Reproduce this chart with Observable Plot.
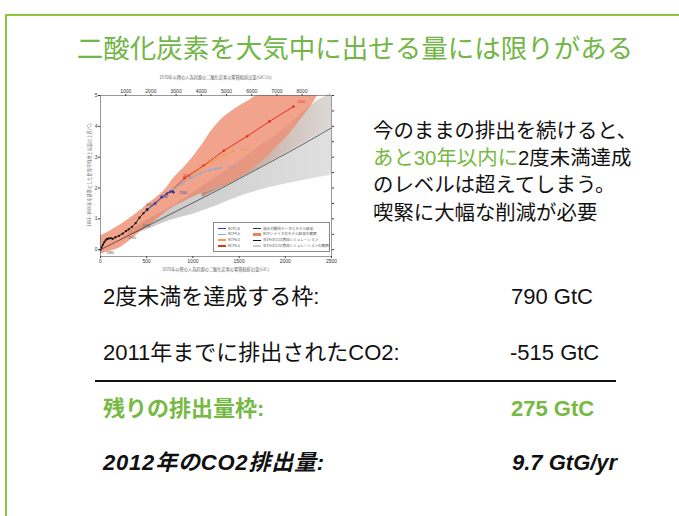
<!DOCTYPE html>
<html><head><meta charset="utf-8">
<script src="https://cdn.jsdelivr.net/npm/d3@7"></script>
<script src="https://cdn.jsdelivr.net/npm/@observablehq/plot@0.6"></script>
<style>
body{margin:0;background:#fff;font-family:"Liberation Sans","Noto Sans CJK JP",sans-serif;}
#page{position:relative;width:679px;height:516px;overflow:hidden;background:#fff;}
.abs{position:absolute;white-space:nowrap;}
#border{position:absolute;left:5px;top:14px;width:720px;height:600px;border:2px solid #8cc63f;}
#title{left:60px;width:590px;text-align:center;top:31px;font-size:26.5px;line-height:32px;color:#72b646;font-family:"Noto Sans CJK JP",sans-serif;}
#msg{left:373px;top:118px;font-size:20.4px;line-height:27.2px;color:#111;font-family:"Liberation Sans","Noto Sans CJK JP",sans-serif;}
.row{font-size:22px;line-height:26px;color:#111;}
.g, .row.g{color:#76b943;}
.bold{font-weight:bold;}
.it{font-style:italic;}
#chart{position:absolute;left:86px;top:75px;}
.tiny{font-size:4.2px;color:#666;font-family:"Noto Sans CJK JP",sans-serif;}
#legend{position:absolute;left:213px;top:222px;width:115px;height:28px;border:0.6px solid #888;background:#fff;font-size:3.6px;color:#555;font-family:"Noto Sans CJK JP",sans-serif;}
.li{position:absolute;height:5px;line-height:5px;}
.sw{display:inline-block;width:8px;height:1px;vertical-align:middle;margin-right:2px;}
</style></head>
<body><div id="page">
<div id="border"></div>
<div id="title" class="abs">二酸化炭素を大気中に出せる量には限りがある</div>
<div id="msg" class="abs">今のままの排出を続けると、<br><span class="g">あと30年以内に</span>2度未満達成<br>のレベルは超えてしまう。<br>喫緊に大幅な削減が必要</div>
<div id="chart"></div>
<div class="abs tiny" style="left:100px;top:74px;width:231px;text-align:center;">1870年以降の人為起源の二酸化炭素の累積総排出量(GtCO2)</div>
<div class="abs tiny" style="left:100px;top:266px;width:231px;text-align:center;">1870年以降の人為起源の二酸化炭素の累積総排出量(GtC)</div>
<div class="abs tiny" style="top:172px;width:185px;text-align:center;transform:translate(-92px,0) rotate(-90deg);transform-origin:50% 50%;left:88px;">1861~1880年を基準とした世界平均地上気温の上昇(°C)</div>
<div id="legend"></div>
<div id="table"></div>
</div>
<script>
// ---------- chart data ----------
const xTicks = [0, 500, 1000, 1500, 2000, 2500];
const topTicksGtCO2 = [1000, 2000, 3000, 4000, 5000, 6000, 7000, 8000];
const yTicks = [0, 1, 2, 3, 4, 5];
const yMinorTicks = [0, 0.5, 1, 1.5, 2, 2.5, 3, 3.5, 4, 4.5, 5];

// historical (GtC, °C)
const histX = [0, 12, 25, 40, 55, 70, 90, 110, 130, 160, 200, 240, 275, 305, 340, 380, 422, 465, 505];
const histY = [0.0, 0.08, 0.16, 0.24, 0.3, 0.35, 0.36, 0.38, 0.35, 0.4, 0.45, 0.52, 0.6, 0.66, 0.74, 0.86, 1.04, 1.18, 1.3];

const rcp26X = [505, 590, 660, 720, 755, 780, 790];
const rcp26Y = [1.3, 1.5, 1.7, 1.82, 1.88, 1.89, 1.86];
const rcp45X = [505, 590, 680, 780, 880, 980, 1080, 1180, 1250, 1300];
const rcp45Y = [1.28, 1.48, 1.72, 1.95, 2.15, 2.33, 2.47, 2.58, 2.63, 2.65];
const rcp60X = [505, 600, 700, 800, 870, 960, 1080, 1200, 1330, 1435];
const rcp60Y = [1.28, 1.5, 1.72, 1.98, 2.13, 2.35, 2.6, 2.85, 3.05, 3.2];
const rcp85X = [505, 600, 700, 800, 909, 1118, 1335, 1587, 1829, 2088];
const rcp85Y = [1.3, 1.52, 1.75, 2.0, 2.32, 2.73, 3.21, 3.68, 4.16, 4.64];

// 1%/yr CO2 simulation mean and range
const pctX = [0, 250, 500, 750, 1000, 1250, 1500, 1750, 2000, 2250, 2500];
const pctY = [0, 0.38, 0.76, 1.14, 1.52, 1.9, 2.3, 2.7, 3.1, 3.52, 3.95];
const pctRangeX = [300, 500, 750, 1000, 1250, 1500, 1750, 2000, 2250, 2500];
const pctLo = [0.45, 0.65, 0.95, 1.15, 1.42, 1.72, 1.95, 2.13, 2.28, 2.42];
const pctHi = [0.6, 0.95, 1.35, 1.85, 2.35, 2.85, 3.4, 3.95, 4.6, 5.1];

// RCP range
const rcpRangeX = [0, 100, 200, 300, 400, 500, 600, 700, 800, 900, 1000, 1100, 1200, 1300, 1400, 1500, 1600, 1700, 1800, 1900, 2000, 2100, 2200, 2300, 2350];
const rcpLo = [-0.15, -0.05, 0.05, 0.25, 0.5, 0.72, 0.95, 1.2, 1.4, 1.55, 1.7, 1.82, 1.95, 2.05, 2.15, 2.3, 2.5, 2.75, 3.0, 3.3, 3.6, 3.95, 4.35, 4.75, 5.0];
const rcpHi = [0.45, 0.6, 0.78, 0.98, 1.2, 1.45, 1.68, 1.95, 2.35, 2.65, 3.0, 3.4, 3.85, 4.2, 4.45, 4.65, 4.82, 5.0, 5.0, 5.0, 5.0, 5.0, 5.0, 5.0, 5.0];

// faded overlap region (between 1% mean and lower RCP edge, right side)
const fadeX = [1100, 1300, 1500, 1700, 1900, 2100, 2300, 2500];
const fadeLo = [1.7, 2.0, 2.3, 2.62, 2.95, 3.3, 3.65, 3.95];
const fadeHi = [1.82, 2.05, 2.3, 2.75, 3.3, 3.95, 4.75, 5.0];

// year annotations
const yearText = ["2100", "2100", "2100", "2100", "2050", "2030", "2010", "2000", "1950", "1880"];
const yearX = [2110, 1490, 1350, 830, 870, 620, 470, 430, 280, 40];
const yearY = [4.78, 3.25, 2.68, 1.85, 2.4, 1.72, 1.45, 0.78, 0.4, -0.1];
const yearColor = ["#e03020", "#f0a040", "#8fa8d8", "#3b3b95", "#e03020", "#3b3b95", "#555", "#555", "#555", "#555"];

const colors = {rcp26: "#3b3b95", rcp45: "#8fa8d8", rcp60: "#f0a040", rcp85: "#e03020"};
const GtCO2perGtC = 44 / 12;

const zip = (xs, ys) => xs.map((x, i) => ({x, y: ys[i]}));
const rcpBand = rcpRangeX.map((x, i) => ({x, lo: rcpLo[i], hi: rcpHi[i]}));
const pctBand = pctRangeX.map((x, i) => ({x, lo: pctLo[i], hi: pctHi[i]}));
const fadeBand = fadeX.map((x, i) => ({x, lo: fadeLo[i], hi: fadeHi[i]}));
const series = [
  {k: "rcp26", d: zip(rcp26X, rcp26Y)},
  {k: "rcp45", d: zip(rcp45X, rcp45Y)},
  {k: "rcp60", d: zip(rcp60X, rcp60Y)},
  {k: "rcp85", d: zip(rcp85X, rcp85Y)}
];
const hist = zip(histX, histY);
const pct = zip(pctX, pctY);
const years = yearText.map((t, i) => ({t, x: yearX[i], y: yearY[i], c: yearColor[i]}));

function defs() {
  const svg = d3.create("svg:defs");
  const g1 = svg.append("linearGradient").attr("id", "grayFade").attr("x1", 0).attr("x2", 1).attr("y1", 0).attr("y2", 0);
  g1.append("stop").attr("offset", "0%").attr("stop-color", "#c6c6c6");
  g1.append("stop").attr("offset", "100%").attr("stop-color", "#e0e0e0");
  const g2 = svg.append("linearGradient").attr("id", "brownFade").attr("x1", 0).attr("x2", 1).attr("y1", 0).attr("y2", 0);
  g2.append("stop").attr("offset", "0%").attr("stop-color", "#b8705a").attr("stop-opacity", 0.75);
  g2.append("stop").attr("offset", "100%").attr("stop-color", "#c8a898").attr("stop-opacity", 0.15);
  return svg.node();
}

const marks = [
  defs,
  Plot.areaY(pctBand, {x: "x", y1: "lo", y2: "hi", fill: "url(#grayFade)", curve: "monotone-x"}),
  Plot.areaY(fadeBand, {x: "x", y1: "lo", y2: "hi", fill: "url(#brownFade)", curve: "monotone-x"}),
  Plot.areaY(rcpBand, {x: "x", y1: "lo", y2: "hi", fill: "#eb8060", fillOpacity: 0.72, curve: "monotone-x"}),
  Plot.line(pct, {x: "x", y: "y", stroke: "#111", strokeWidth: 0.6, curve: "monotone-x"}),
];
for (const s of series.slice().reverse()) {
  marks.push(Plot.line(s.d, {x: "x", y: "y", stroke: colors[s.k], strokeWidth: 1}));
  marks.push(Plot.dot(s.d, {x: "x", y: "y", fill: colors[s.k], r: 1.3}));
}
marks.push(
  Plot.line(hist, {x: "x", y: "y", stroke: "#111", strokeWidth: 0.9}),
  Plot.dot(hist, {x: "x", y: "y", fill: "#111", r: 1.1}),
  Plot.text(years, {x: "x", y: "y", text: "t", fill: "c", fontSize: 3.5, textAnchor: "start", dx: 2}),
  Plot.axisX(xTicks, {anchor: "bottom", tickSize: 2, tickPadding: 1, fontSize: 5, label: null, color: "#333", tickFormat: d => String(d)}),
  Plot.axisX(topTicksGtCO2.map(v => v / GtCO2perGtC), {anchor: "top", tickSize: 2, tickPadding: 1, fontSize: 5, label: null, color: "#333", tickFormat: d => String(Math.round(d * GtCO2perGtC))}),
  Plot.axisY(yTicks, {anchor: "left", tickSize: 2, tickPadding: 1, fontSize: 5, label: null, color: "#333"}),
  Plot.axisY(yMinorTicks, {anchor: "right", tickSize: 2, tickFormat: () => "", label: null, color: "#333"}),
  Plot.frame({stroke: "#555", strokeWidth: 0.6})
);

const chart = Plot.plot({
  width: 251, height: 201,
  marginLeft: 14, marginRight: 6, marginTop: 20, marginBottom: 20,
  x: {domain: [0, 2500]},
  y: {domain: [-0.22, 5]},
  style: {background: "#fff", fontFamily: "Liberation Sans, sans-serif"},
  marks
});
document.getElementById("chart").appendChild(chart);

// ---------- legend ----------
const legLeft = ["RCP2.6", "RCP4.5", "RCP6.0", "RCP8.5"];
const legLeftColor = [colors.rcp26, colors.rcp45, colors.rcp60, colors.rcp85];
const legRight = ["過去の観測データとモデル結果", "RCPシナリオのモデル結果の範囲", "年1%のCO2増加シミュレーション", "年1%のCO2増加シミュレーションの範囲"];
const legRightColor = ["#333", "#eb8060", "#111", "#cccccc"];
const legRightH = [1.4, 2.5, 0.8, 2.5];
const leg = document.getElementById("legend");
legLeft.forEach((t, i) => {
  const d = document.createElement("div");
  d.className = "li"; d.style.left = "4px"; d.style.top = (2.5 + i * 5.8) + "px";
  d.innerHTML = `<span class="sw" style="background:${legLeftColor[i]};height:1.3px"></span>${t}`;
  leg.appendChild(d);
  const e = document.createElement("div");
  e.className = "li"; e.style.left = "39px"; e.style.top = (2.5 + i * 5.8) + "px";
  e.innerHTML = `<span class="sw" style="background:${legRightColor[i]};height:${legRightH[i]}px"></span>${legRight[i]}`;
  leg.appendChild(e);
});

// ---------- table ----------
const rowLabels = ["2度未満を達成する枠:", "2011年までに排出されたCO2:", "残りの排出量枠:", "2012年のCO2排出量:"];
const rowValues = ["790 GtC", "-515 GtC", "275 GtC", "9.7 GtG/yr"];
const rowStyle = ["", "", "bold g", "bold it"];
const rowTop = [284, 340, 396, 450];
const valLeft = [511, 510, 511, 512];
const labelSpacing = ["0px", "0px", "0px", "0.8px"];
const tbl = document.getElementById("table");
rowLabels.forEach((t, i) => {
  const a = document.createElement("div");
  a.className = "abs row " + rowStyle[i];
  a.style.left = "103px"; a.style.top = rowTop[i] + "px"; a.style.letterSpacing = labelSpacing[i];
  a.textContent = t;
  tbl.appendChild(a);
  const b = document.createElement("div");
  b.className = "abs row " + rowStyle[i];
  b.style.left = valLeft[i] + "px"; b.style.top = rowTop[i] + "px"; b.textContent = rowValues[i];
  tbl.appendChild(b);
});
const rule = document.createElement("div");
rule.className = "abs";
rule.style.cssText = "left:95px;top:380px;width:521px;height:2px;background:#111;";
tbl.appendChild(rule);
</script>
</body></html>
